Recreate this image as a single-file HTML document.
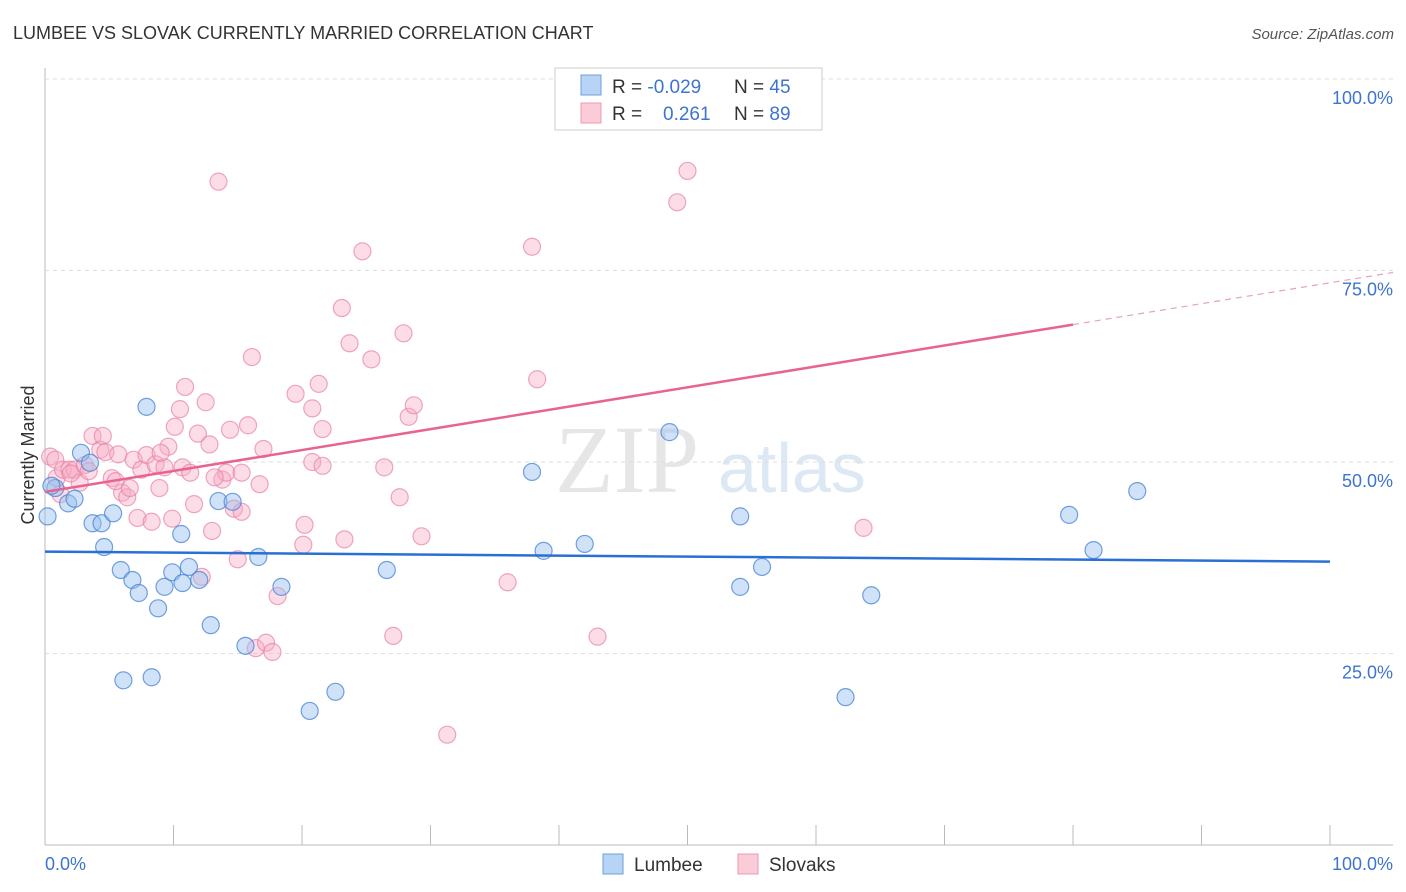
<!DOCTYPE html>
<html><head><meta charset="utf-8"><style>
body{margin:0;background:#fff;font-family:"Liberation Sans",sans-serif}
svg{display:block}
</style></head><body>
<svg id="chart" width="1406" height="892">
<text x="13" y="39" font-size="18" fill="#333">LUMBEE VS SLOVAK CURRENTLY MARRIED CORRELATION CHART</text>
<text x="1394" y="39" font-size="15" fill="#555" text-anchor="end" font-style="italic">Source: ZipAtlas.com</text>
<text x="34" y="455" font-size="18" fill="#333" text-anchor="middle" transform="rotate(-90 34 455)">Currently Married</text>
<text x="555" y="492" font-size="96" fill="#e6e6e6" font-family="Liberation Serif,serif">ZIP</text>
<text x="718" y="492" font-size="70" fill="#dde8f5">atlas</text>
<g id="grid"></g><g id="pts"></g><g id="lines"></g>
<g>
<rect x="555" y="68" width="267" height="62" fill="#fff" stroke="#ccc"/>
<rect x="581" y="75" width="20" height="20" fill="#b8d4f5" stroke="#6d9ee0"/>
<rect x="581" y="103" width="20" height="20" fill="#fbcbd8" stroke="#ef9ab4"/>
<text x="612" y="93" font-size="19" fill="#333">R = <tspan fill="#3d74d0">-0.029</tspan></text>
<text x="734" y="93" font-size="19" fill="#333">N = <tspan fill="#3d74d0">45</tspan></text>
<text x="612" y="120" font-size="19" fill="#333">R = <tspan fill="#3d74d0" x="663">0.261</tspan></text>
<text x="734" y="120" font-size="19" fill="#333">N = <tspan fill="#3d74d0">89</tspan></text>
</g>
<g>
<rect x="603" y="854" width="20" height="20" fill="#b8d4f5" stroke="#6d9ee0"/>
<text x="634" y="871" font-size="19" fill="#333">Lumbee</text>
<rect x="738" y="854" width="20" height="20" fill="#fbcbd8" stroke="#ef9ab4"/>
<text x="769" y="871" font-size="19" fill="#333">Slovaks</text>
</g>
</svg>
<script>
const yTicks=[25,50,75,100];
const yTickLabels=["25.0%","50.0%","75.0%","100.0%"];
const xTickLabels=["0.0%","100.0%"];
const lumbeeX=[0.2,0.8,1.8,2.3,2.8,3.5,3.7,4.4,4.6,5.3,5.9,6.8,7.3,7.9,6.1,8.3,8.8,9.3,9.9,10.6,10.7,11.2,12.0,12.9,13.5,14.6,15.6,16.6,18.4,20.6,22.6,26.6,37.9,38.8,42.0,48.6,54.1,54.1,55.8,62.3,64.3,79.7,81.6,85.0,0.5];
const lumbeeY=[42.9,46.6,44.6,45.2,51.2,49.9,42.0,42.0,38.9,43.3,35.9,34.6,32.9,57.2,21.5,21.9,30.9,33.7,35.6,40.6,34.2,36.3,34.6,28.7,44.9,44.8,26.0,37.6,33.7,17.5,20.0,35.9,48.7,38.4,39.3,53.9,42.9,33.7,36.3,19.3,32.6,43.1,38.5,46.2,46.9];
const slovakX=[0.4,0.8,0.9,1.2,1.4,1.9,2.3,2.7,3.1,3.7,4.3,4.5,4.7,5.2,5.7,6.0,6.4,6.6,6.9,7.2,7.5,7.9,8.3,8.6,8.9,9.3,9.6,9.9,10.1,10.5,10.7,10.9,11.3,11.6,11.9,12.5,12.8,13.0,13.5,13.8,14.1,14.4,14.7,15.0,15.3,15.3,15.8,16.1,16.4,16.7,17.0,17.2,17.7,18.1,19.5,20.1,20.2,20.8,20.8,21.3,21.6,21.6,23.1,23.3,23.7,24.7,25.4,26.4,27.1,27.6,27.9,28.3,28.7,29.3,31.3,36.0,37.9,38.3,43.0,49.2,50.0,51.7,63.7,12.2,2.0,3.4,5.5,9.0,13.2];
const slovakY=[50.7,50.3,47.9,45.8,49.0,49.0,49.0,47.3,49.6,53.4,51.6,53.4,51.3,47.9,51.0,46.0,45.4,46.6,50.3,42.7,49.0,50.9,42.2,49.7,46.6,49.3,52.0,42.6,54.6,56.9,49.3,59.8,48.6,44.5,53.7,57.8,52.3,41.0,86.6,47.7,48.6,54.2,43.9,37.3,43.5,48.6,54.8,63.7,25.7,47.1,51.7,26.4,25.2,32.5,58.9,39.2,41.8,57.0,50.0,60.2,54.3,49.5,70.1,39.9,65.5,77.5,63.4,49.3,27.3,45.4,66.8,55.9,57.4,40.3,14.4,34.3,78.1,60.8,27.2,83.9,88.0,99.9,41.4,35.0,48.5,48.8,47.5,51.2,48.0];
const lumbeeLine=[38.3,37.0];
const slovakLine=[46.1,73.4];
const slovakSolidEnd=80;
const X0=45,X1=1330,Y0=845,Y100=79;
const sx=v=>X0+(X1-X0)*v/100, sy=v=>Y0-(Y0-Y100)*v/100;
const NS="http://www.w3.org/2000/svg";
function mk(t,a,p){const e=document.createElementNS(NS,t);for(const k in a)e.setAttribute(k,a[k]);p.appendChild(e);return e;}
const grid=document.getElementById('grid');
mk('line',{x1:45,y1:68,x2:45,y2:845,stroke:'#bbb'},grid);
mk('line',{x1:45,y1:845,x2:1393,y2:845,stroke:'#bbb'},grid);
yTicks.forEach((t,i)=>{
 const g=mk('line',{x1:45,y1:sy(t),x2:1393,y2:sy(t),stroke:'#ddd','stroke-dasharray':'4,4'},grid);
 
 
 const l=mk('text',{x:1393,y:sy(t)+25,'font-size':18,fill:'#3d74d0','text-anchor':'end'},grid);
 l.textContent=yTickLabels[i];
 
 
});
for(let i=0;i<=10;i++){mk('line',{x1:sx(i*10),y1:825,x2:sx(i*10),y2:845,stroke:'#bbb'},grid);}
const xl0=mk('text',{x:45,y:870,'font-size':18,fill:'#3d74d0'},grid);xl0.textContent=xTickLabels[0];


const xl1=mk('text',{x:1393,y:870,'font-size':18,fill:'#3d74d0','text-anchor':'end'},grid);xl1.textContent=xTickLabels[1];


const pts=document.getElementById('pts');
slovakX.forEach((x,i)=>{const c=mk('circle',{cx:sx(x),cy:sy(slovakY[i]),r:8.5,fill:'rgba(248,170,195,0.4)',stroke:'rgba(232,130,165,0.7)','stroke-width':1.2},pts);
 
 });
lumbeeX.forEach((x,i)=>{const c=mk('circle',{cx:sx(x),cy:sy(lumbeeY[i]),r:8.5,fill:'rgba(150,190,238,0.45)',stroke:'rgba(70,130,215,0.75)','stroke-width':1.2},pts);
 
 });
const lines=document.getElementById('lines');
const bl=mk('line',{x1:sx(0),y1:sy(lumbeeLine[0]),x2:sx(100),y2:sy(lumbeeLine[1]),stroke:'#2a6fd6','stroke-width':2.5},lines);


const ym=slovakLine[0]+(slovakLine[1]-slovakLine[0])*slovakSolidEnd/100;
const pl=mk('line',{x1:sx(0),y1:sy(slovakLine[0]),x2:sx(slovakSolidEnd),y2:sy(ym),stroke:'#e8648f','stroke-width':2.5},lines);


const pd=mk('line',{x1:sx(slovakSolidEnd),y1:sy(ym),x2:1393,y2:sy(slovakLine[0]+(slovakLine[1]-slovakLine[0])*(1393-X0)/(X1-X0)),stroke:'#eaa0b8','stroke-width':1.2,'stroke-dasharray':'6,5'},lines);


</script>
</body></html>
